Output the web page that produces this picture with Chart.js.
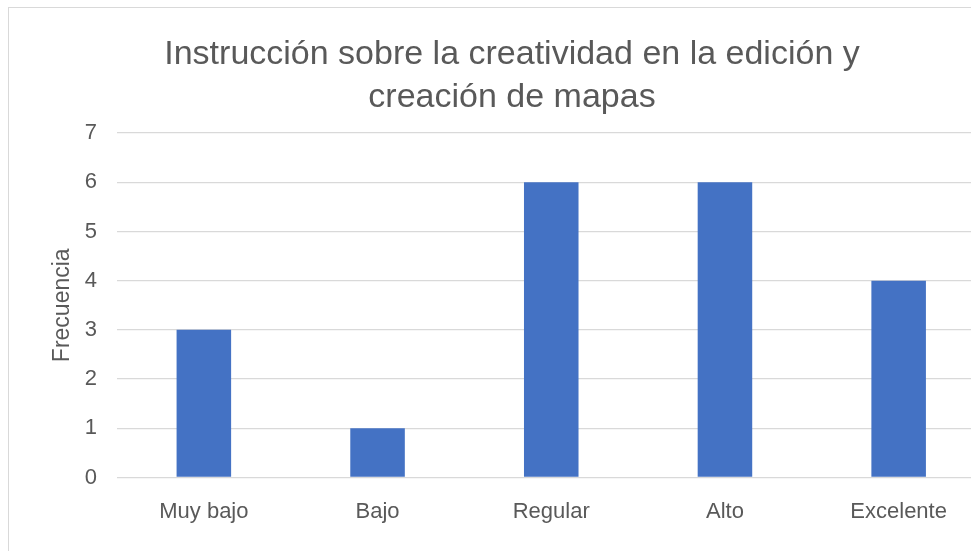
<!DOCTYPE html>
<html>
<head>
<meta charset="utf-8">
<script src="https://cdn.jsdelivr.net/npm/chart.js@4/dist/chart.umd.min.js"></script>
<style>
  html, body { margin: 0; padding: 0; background: #ffffff; overflow: hidden; width: 971px; height: 551px; }
  #frame { position: absolute; left: 8px; top: 7px; width: 1100px; height: 700px; border: 1px solid #d9d9d9; box-sizing: border-box; }
  #wrap { position: absolute; left: 0; top: 0; width: 1024px; height: 551px; }
</style>
</head>
<body>
<div id="frame"></div>
<div id="wrap"><canvas id="c"></canvas></div>
<script>
const categories = ['Muy bajo', 'Bajo', 'Regular', 'Alto', 'Excelente'];
const frecuencia = [3, 1, 6, 6, 4];
const yTicks = [0, 1, 2, 3, 4, 5, 6, 7];
const titleLines = ['Instrucción sobre la creatividad en la edición y', 'creación de mapas'];
const yAxisTitle = 'Frecuencia';

const textColor = '#595959';
const fontFamily = '"Liberation Sans", Arial, sans-serif';

new Chart(document.getElementById('c'), {
  type: 'bar',
  data: {
    labels: categories,
    datasets: [{
      label: yAxisTitle,
      data: frecuencia,
      backgroundColor: '#4472C4',
      borderWidth: 0,
      categoryPercentage: 1,
      barPercentage: 0.314
    }]
  },
  options: {
    responsive: true,
    maintainAspectRatio: false,
    animation: false,
    devicePixelRatio: 1,
    layout: { padding: { left: 38.5, right: 38.5, top: 0, bottom: 0 } },
    plugins: {
      legend: { display: false },
      tooltip: { enabled: false },
      title: {
        display: true,
        text: titleLines,
        color: textColor,
        font: { family: fontFamily, size: 34, weight: 'normal', lineHeight: 1.265 },
        padding: { top: 33.5, bottom: 13.5 }
      }
    },
    scales: {
      x: {
        grid: { display: false, drawTicks: false },
        border: { display: false },
        ticks: {
          color: textColor,
          font: { family: fontFamily, size: 22 },
          padding: 21,
          maxRotation: 0,
          autoSkip: false
        },
        afterFit: (s) => { s.height = 551 - 477.5; }
      },
      y: {
        min: 0,
        max: 7,
        afterBuildTicks: (s) => { s.ticks = yTicks.map(v => ({ value: v })); },
        grid: { color: '#d9d9d9', lineWidth: 1.3, drawTicks: false },
        border: { display: false },
        ticks: {
          color: textColor,
          font: { family: fontFamily, size: 22 },
          padding: 20
        },
        title: {
          display: true,
          text: yAxisTitle,
          color: textColor,
          font: { family: fontFamily, size: 23 },
          padding: { top: 10, bottom: 0 }
        },
        afterFit: (s) => { s.width = 78.5; }
      }
    }
  }
});
</script>
</body>
</html>
